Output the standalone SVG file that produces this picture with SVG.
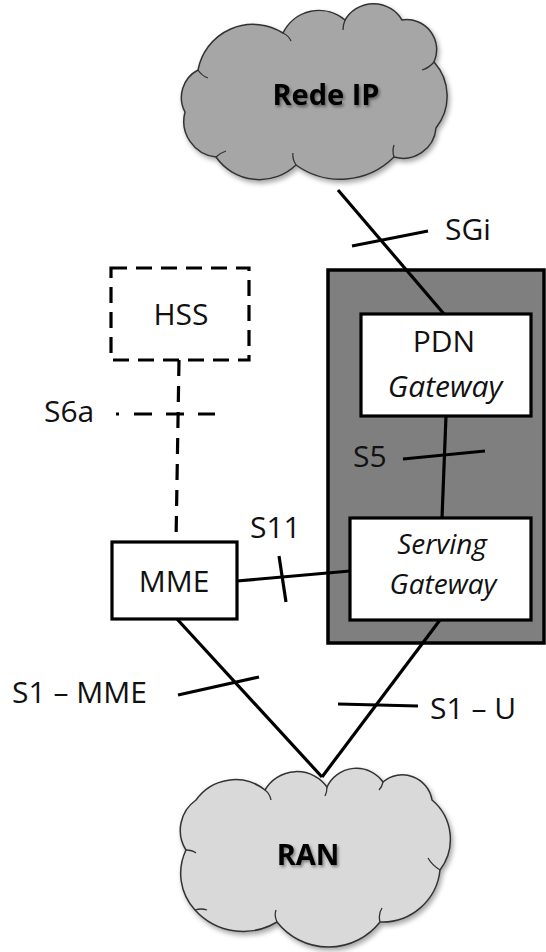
<svg xmlns="http://www.w3.org/2000/svg" width="546" height="952" viewBox="0 0 546 952">
<defs>
<filter id="shadow" x="-10%" y="-10%" width="125%" height="130%">
<feDropShadow dx="2" dy="3" stdDeviation="2.5" flood-color="#000" flood-opacity="0.35"/>
</filter>
<filter id="glow" x="-20%" y="-30%" width="140%" height="170%">
<feDropShadow dx="1.5" dy="2" stdDeviation="1.5" flood-color="#000" flood-opacity="0.45"/>
</filter>
<style>
.lbl{font-family:"Open Sans","Liberation Sans",sans-serif;font-size:30px;fill:#111}
.it{font-style:italic}
.sm{font-size:28px}
.ttl{font-family:"Open Sans","Liberation Sans",sans-serif;font-size:29px;font-weight:bold;fill:#000}
.box{fill:#fff;stroke:#000;stroke-width:3.2}
.ln{stroke:#000;stroke-width:3.2;fill:none}
.dash{stroke:#000;stroke-width:3.2;fill:none;stroke-dasharray:16 9}
.cloud{stroke:#333;stroke-width:1.5}
.inner{stroke:#333;stroke-width:1.3;fill:none}
</style>
</defs>
<rect width="546" height="952" fill="#fff"/>

<g id="rede-ip">
<path class="cloud" fill="#a6a6a6" filter="url(#shadow)" d="M185,112 A31,31 0 0 1 198,70 A56,56 0 0 1 283,33 A40,40 0 0 1 345,20 A33,33 0 0 1 402,20 A30,30 0 0 1 434,62 A51,51 0 0 1 436,128 A33,33 0 0 1 394,157 A76,76 0 0 1 296,165 A53,53 0 0 1 216,157 A36,36 0 0 1 185,112 Z"/>
<path class="inner" d="M198,70 q4,6 10,8 M283,33 q6,3 8,8 M345,20 q-2,5 -2,10 M434,62 q-5,6 -12,8 M394,157 q-2,-6 0,-12 M296,165 q-4,-6 -3,-12 M216,157 q4,-4 10,-6"/>
<text class="ttl" x="326" y="105" text-anchor="middle" filter="url(#glow)">Rede IP</text>
</g>

<g id="ran">
<path class="cloud" fill="#d9d9d9" filter="url(#shadow)" d="M195,910 A54,54 0 0 1 186,850 A37,37 0 0 1 196,800 A48,48 0 0 1 265,790 A37,37 0 0 1 327,787 A32.5,32.5 0 0 1 383,782 A30,30 0 0 1 432,800 A51,51 0 0 1 440,870 A58,58 0 0 1 380,922 A65.5,65.5 0 0 1 277,922 A65,65 0 0 1 195,910 Z"/>
<path class="inner" d="M186,850 q6,0 10,3 M265,790 q5,4 6,10 M327,787 q0,5 -2,9 M383,782 q-1,5 -4,8 M440,870 q-8,-5 -12,-12 M380,922 q-2,-8 2,-14 M277,922 q-3,-6 -1,-12 M195,910 q6,-2 12,0"/>
<text class="ttl" x="308" y="865" text-anchor="middle" filter="url(#glow)">RAN</text>
</g>

<g id="epc">
<rect x="328" y="270" width="216" height="373" fill="#7f7f7f" stroke="#000" stroke-width="3.5"/>
</g>

<g id="connectors">
<line class="ln" x1="338" y1="190" x2="444" y2="314"/>
<line class="ln" x1="352" y1="246" x2="428" y2="231"/>
<line class="ln" x1="446" y1="416" x2="442" y2="518"/>
<line class="ln" x1="403" y1="459" x2="485" y2="451"/>
<line class="ln" x1="179" y1="360" x2="176" y2="542" style="stroke-dasharray:16 10"/>
<line class="ln" x1="116" y1="414" x2="215" y2="414" style="stroke-dasharray:3 15 18 14 18 14 18"/>
<line class="ln" x1="237" y1="581" x2="350" y2="571"/>
<line class="ln" x1="279" y1="556" x2="286" y2="602"/>
<line class="ln" x1="177" y1="619" x2="322" y2="777"/>
<line class="ln" x1="178" y1="695" x2="259" y2="677"/>
<line class="ln" x1="440" y1="620" x2="322" y2="777"/>
<line class="ln" x1="338" y1="704" x2="418" y2="706"/>
</g>

<g id="hss">
<rect class="dash" x="111" y="268" width="138" height="92"/>
<text class="lbl" x="181" y="325" text-anchor="middle">HSS</text>
</g>

<g id="pdn-gw">
<rect class="box" x="361" y="314" width="170" height="102"/>
<text class="lbl" x="444" y="352" text-anchor="middle">PDN</text>
<text class="lbl it" x="445" y="397" text-anchor="middle">Gateway</text>
</g>

<g id="serving-gw">
<rect class="box" x="350" y="518" width="181" height="102"/>
<text class="lbl it sm" x="442" y="554" text-anchor="middle">Serving</text>
<text class="lbl it sm" x="443" y="594" text-anchor="middle">Gateway</text>
</g>

<g id="mme">
<rect class="box" x="112" y="542" width="125" height="77"/>
<text class="lbl" x="174" y="592" text-anchor="middle">MME</text>
</g>

<g id="labels">
<text class="lbl" x="445" y="240">SGi</text>
<text class="lbl" x="44" y="422">S6a</text>
<text class="lbl" x="353" y="467">S5</text>
<text class="lbl" x="250" y="538">S11</text>
<text class="lbl" x="12" y="703">S1 – MME</text>
<text class="lbl" x="430" y="719">S1 – U</text>
</g>
</svg>
